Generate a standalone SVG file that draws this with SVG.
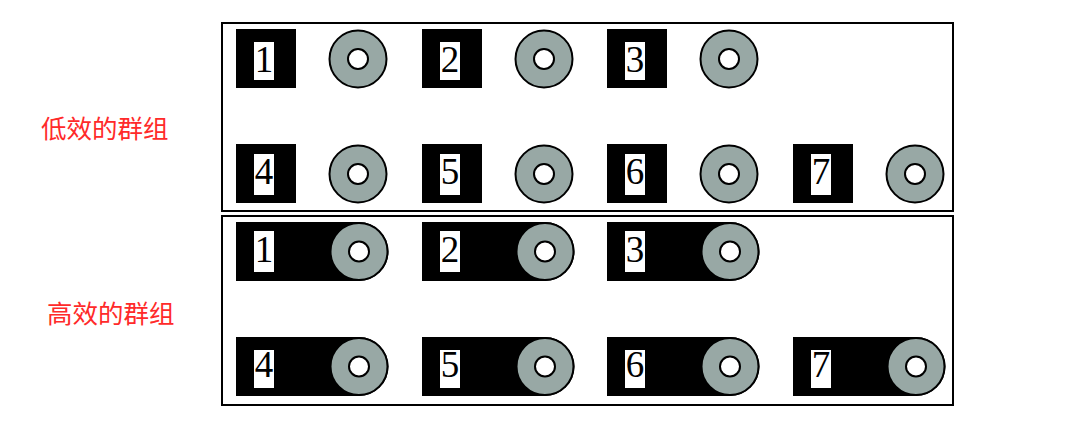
<svg xmlns="http://www.w3.org/2000/svg" width="1090" height="429" viewBox="0 0 1090 429">
<style>
.frame{fill:none;stroke:#000;stroke-width:2}
.blk{fill:#000}
.win{fill:#fff}
.disk{fill:#98a8a5;stroke:#000;stroke-width:2}
.hole{fill:#fff;stroke:#000;stroke-width:2}
.num{font-family:"Liberation Serif",serif;font-size:37px;fill:#000;text-anchor:middle}
.lbl{font-family:"Noto Sans CJK SC","Liberation Sans",sans-serif;font-size:25.5px;fill:#ff2a2a}
</style>
<defs>
<g id="disk"><circle r="28.5" class="disk"/><circle r="10" class="hole"/></g>
</defs>
<rect class="frame" x="222" y="23" width="731" height="188"/>
<rect class="frame" x="222" y="216" width="731" height="189"/>
<text class="lbl" x="41" y="138">低效的群组</text>
<text class="lbl" x="47" y="323">高效的群组</text>
<g id="top">
<g id="t1" transform="translate(236,29)"><rect class="blk" width="60" height="59"/><rect class="win" x="18" y="13" width="20" height="38"/><text class="num" x="28" y="43">1</text><use href="#disk" x="122" y="30"/></g>
<g id="t2" transform="translate(422,29)"><rect class="blk" width="60" height="59"/><rect class="win" x="18" y="13" width="20" height="38"/><text class="num" x="28" y="43">2</text><use href="#disk" x="122" y="30"/></g>
<g id="t3" transform="translate(607,29)"><rect class="blk" width="60" height="59"/><rect class="win" x="18" y="13" width="20" height="38"/><text class="num" x="28" y="43">3</text><use href="#disk" x="122" y="30"/></g>
<g id="t4" transform="translate(236,144)"><rect class="blk" width="60" height="59"/><rect class="win" x="18" y="10" width="20" height="41"/><text class="num" x="28" y="40">4</text><use href="#disk" x="122" y="30"/></g>
<g id="t5" transform="translate(422,144)"><rect class="blk" width="60" height="59"/><rect class="win" x="18" y="10" width="20" height="41"/><text class="num" x="28" y="40">5</text><use href="#disk" x="122" y="30"/></g>
<g id="t6" transform="translate(607,144)"><rect class="blk" width="60" height="59"/><rect class="win" x="18" y="10" width="20" height="41"/><text class="num" x="28" y="40">6</text><use href="#disk" x="122" y="30"/></g>
<g id="t7" transform="translate(793,144)"><rect class="blk" width="60" height="59"/><rect class="win" x="18" y="10" width="20" height="41"/><text class="num" x="28" y="40">7</text><use href="#disk" x="122" y="30"/></g>
</g>
<g id="bottom">
<g id="b1" transform="translate(236,222)"><path class="blk" d="M0 0H123A29.5 29.5 0 0 1 123 59H0Z"/><rect class="win" x="18" y="9" width="20" height="41"/><text class="num" x="28" y="40">1</text><use href="#disk" x="123" y="29.5"/></g>
<g id="b2" transform="translate(422,222)"><path class="blk" d="M0 0H123A29.5 29.5 0 0 1 123 59H0Z"/><rect class="win" x="18" y="9" width="20" height="41"/><text class="num" x="28" y="40">2</text><use href="#disk" x="123" y="29.5"/></g>
<g id="b3" transform="translate(607,222)"><path class="blk" d="M0 0H123A29.5 29.5 0 0 1 123 59H0Z"/><rect class="win" x="18" y="9" width="20" height="41"/><text class="num" x="28" y="40">3</text><use href="#disk" x="123" y="29.5"/></g>
<g id="b4" transform="translate(236,337)"><path class="blk" d="M0 0H123A29.5 29.5 0 0 1 123 59H0Z"/><rect class="win" x="18" y="13" width="20" height="38"/><text class="num" x="28" y="40">4</text><use href="#disk" x="123" y="29.5"/></g>
<g id="b5" transform="translate(422,337)"><path class="blk" d="M0 0H123A29.5 29.5 0 0 1 123 59H0Z"/><rect class="win" x="18" y="13" width="20" height="38"/><text class="num" x="28" y="40">5</text><use href="#disk" x="123" y="29.5"/></g>
<g id="b6" transform="translate(607,337)"><path class="blk" d="M0 0H123A29.5 29.5 0 0 1 123 59H0Z"/><rect class="win" x="18" y="13" width="20" height="38"/><text class="num" x="28" y="40">6</text><use href="#disk" x="123" y="29.5"/></g>
<g id="b7" transform="translate(793,337)"><path class="blk" d="M0 0H123A29.5 29.5 0 0 1 123 59H0Z"/><rect class="win" x="18" y="13" width="20" height="38"/><text class="num" x="28" y="40">7</text><use href="#disk" x="123" y="29.5"/></g>
</g>
</svg>
